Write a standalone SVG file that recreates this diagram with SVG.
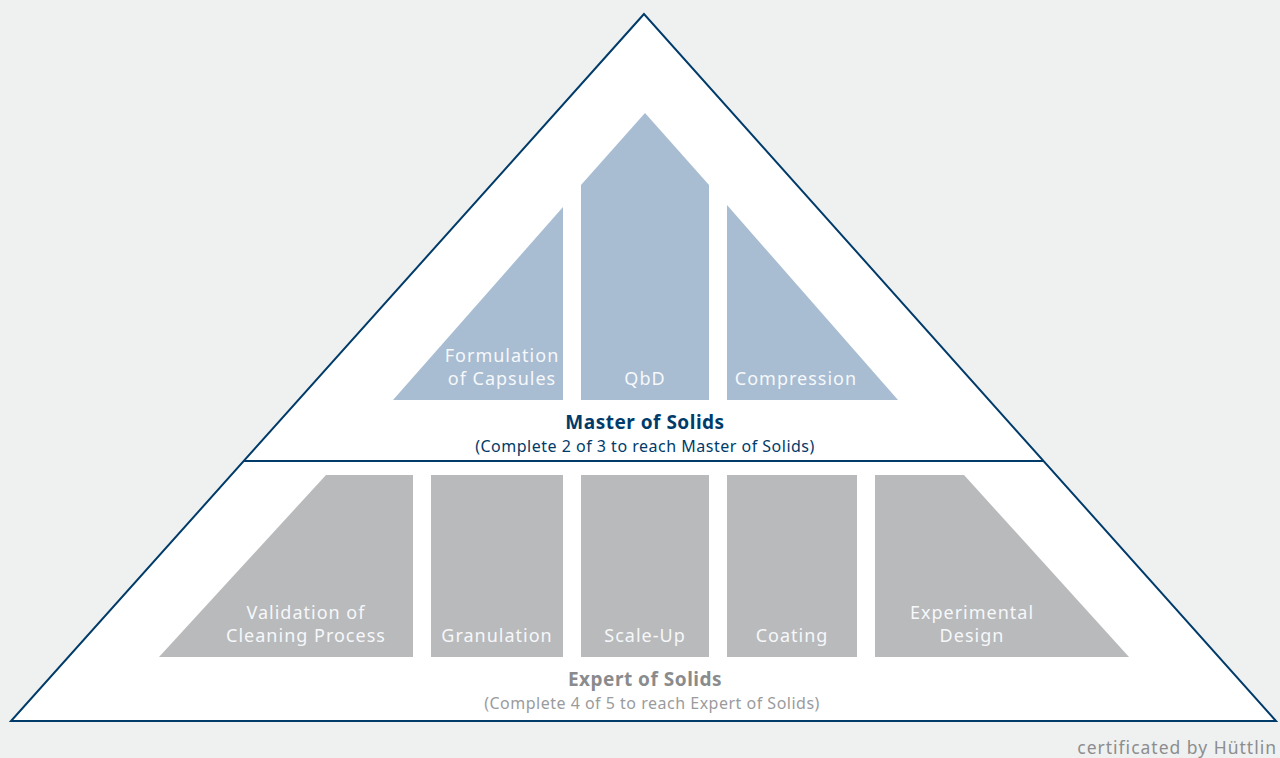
<svg xmlns="http://www.w3.org/2000/svg" width="1280" height="758" viewBox="0 0 1280 758">
<style>
.bg{fill:#eff1f0}
.frame{fill:#ffffff;stroke:#003b6a;stroke-width:2;stroke-linejoin:miter}
.div{stroke:#003b6a;stroke-width:2}
.m{fill:#a8bcd2}
.e{fill:#b9babc}
.lbl{font-family:"Noto Sans","Open Sans","Liberation Sans",sans-serif;font-size:18px;fill:#f6f8fa;letter-spacing:1px;text-anchor:middle}
.title{font-family:"Noto Sans","Open Sans","Liberation Sans",sans-serif;font-size:19px;font-weight:bold;text-anchor:middle;letter-spacing:0.5px}
.sub{font-family:"Noto Sans","Open Sans","Liberation Sans",sans-serif;font-size:16px;text-anchor:middle;letter-spacing:0.5px}
.cert{font-family:"Noto Sans","Open Sans","Liberation Sans",sans-serif;font-size:17.5px;fill:#8c8d8f;letter-spacing:1px;text-anchor:end}
</style>
<rect class="bg" x="0" y="0" width="1280" height="758"/>
<g id="pyramid">
<polygon class="frame" points="644,14 11,721 1276,721"/>
</g>
<g id="connectors">
<line class="div" x1="244" y1="461" x2="1044" y2="461"/>
</g>
<g id="formulation-of-capsules">
<polygon class="m" points="563,207 563,400 393,400"/>
<text class="lbl" x="502" y="362">Formulation</text>
<text class="lbl" x="502" y="385">of Capsules</text>
</g>
<g id="qbd">
<polygon class="m" points="645,113 709,185 709,400 581,400 581,185"/>
<text class="lbl" x="645" y="385">QbD</text>
</g>
<g id="compression">
<polygon class="m" points="727,205 898,400 727,400"/>
<text class="lbl" x="796" y="385">Compression</text>
</g>
<g id="master-of-solids">
<text class="title" x="645" y="429" fill="#003b6a">Master of Solids</text>
<text class="sub" x="645" y="452" fill="#003b6a">(Complete 2 of 3 to reach Master of Solids)</text>
</g>
<g id="validation-of-cleaning-process">
<polygon class="e" points="326,475 413,475 413,657 159,657"/>
<text class="lbl" x="306" y="619">Validation of</text>
<text class="lbl" x="306" y="642">Cleaning Process</text>
</g>
<g id="granulation">
<rect class="e" x="431" y="475" width="132" height="182"/>
<text class="lbl" x="497" y="642">Granulation</text>
</g>
<g id="scale-up">
<rect class="e" x="581" y="475" width="128" height="182"/>
<text class="lbl" x="645" y="642">Scale-Up</text>
</g>
<g id="coating">
<rect class="e" x="727" y="475" width="130" height="182"/>
<text class="lbl" x="792" y="642">Coating</text>
</g>
<g id="experimental-design">
<polygon class="e" points="875,475 964,475 1129,657 875,657"/>
<text class="lbl" x="972" y="619">Experimental</text>
<text class="lbl" x="972" y="642">Design</text>
</g>
<g id="expert-of-solids">
<text class="title" x="645" y="686" fill="#8a8b8d">Expert of Solids</text>
<text class="sub" x="652" y="709" fill="#9a9b9d">(Complete 4 of 5 to reach Expert of Solids)</text>
</g>
<text class="cert" x="1277" y="754">certificated by Hüttlin</text>
</svg>
